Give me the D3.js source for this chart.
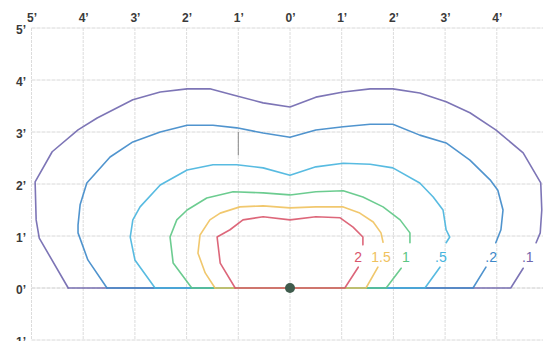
<!DOCTYPE html>
<html><head><meta charset="utf-8">
<script src="https://cdn.jsdelivr.net/npm/d3@7"></script>
<style>body{margin:0;background:#fff;}svg{display:block;}</style>
</head><body>
<script>
// ---- data (feet) ----
const xTicks = [-5,-4,-3,-2,-1,0,1,2,3,4,5];
const yTicks = [-1,0,1,2,3,4,5];
const levelLabels = ["2","1.5","1",".5",".2",".1"];
const levelColors = ["#d9566c","#efc25e","#5cc684","#46b4de","#3d88c9","#6f66ae"];

const contour2 = [[-1.06,0],[-1.35,0.48],[-1.41,0.98],[-1.16,1.12],[-0.91,1.31],[-0.52,1.37],[0,1.31],[0.50,1.37],[0.97,1.35],[1.22,1.17],[1.41,0.98],[1.41,0.83]];
const contour15 = [[-1.45,0],[-1.64,0.29],[-1.78,0.67],[-1.74,1.02],[-1.55,1.31],[-1.35,1.44],[-0.97,1.56],[-0.52,1.58],[0,1.54],[0.50,1.56],[1.03,1.56],[1.35,1.44],[1.61,1.27],[1.76,1.06],[1.80,0.88]];
const contour1 = [[-1.90,0],[-2.26,0.48],[-2.32,0.98],[-2.19,1.31],[-1.99,1.50],[-1.61,1.73],[-1.10,1.85],[-0.52,1.83],[0,1.79],[0.50,1.85],[1.03,1.87],[1.41,1.75],[1.80,1.56],[2.13,1.31],[2.32,1.06],[2.32,0.87]];
const contour05 = [[-2.61,0],[-3.00,0.54],[-3.09,0.98],[-3.04,1.31],[-2.90,1.56],[-2.51,1.98],[-1.99,2.27],[-1.49,2.37],[-1.03,2.37],[-0.52,2.31],[0,2.17],[0.50,2.33],[1.03,2.40],[1.55,2.38],[1.99,2.31],[2.51,2.02],[2.77,1.75],[2.96,1.50],[3.02,1.12],[3.09,0.98],[3.02,0.87]];
const contour02 = [[-3.54,0],[-3.91,0.54],[-4.10,1.06],[-4.10,1.21],[-4.06,1.60],[-3.93,2.02],[-3.48,2.52],[-3.04,2.81],[-2.51,3.00],[-1.99,3.13],[-1.49,3.13],[-1.03,3.08],[-0.52,2.98],[0,2.90],[0.50,3.04],[1.03,3.10],[1.55,3.15],[1.99,3.15],[2.51,2.94],[3.02,2.79],[3.48,2.46],[3.87,2.08],[4.02,1.88],[4.12,1.50],[4.08,1.12],[3.98,0.87]];
const contour01 = [[-4.29,0],[-4.85,0.96],[-4.91,1.31],[-4.93,2.04],[-4.60,2.62],[-4.10,3.04],[-3.73,3.27],[-3.04,3.62],[-2.51,3.77],[-1.99,3.83],[-1.55,3.83],[-1.10,3.71],[-0.52,3.56],[0,3.48],[0.50,3.67],[1.03,3.77],[1.55,3.83],[1.99,3.83],[2.51,3.75],[3.02,3.58],[3.48,3.37],[3.98,3.04],[4.51,2.60],[4.85,2.02],[4.87,1.50],[4.84,1.06],[4.76,0.87]];
const contours = [contour2, contour15, contour1, contour05, contour02, contour01];
// label centre positions and leader lines (from label to right baseline end)
const labelPos = [[1.32,0.60],[1.76,0.60],[2.24,0.60],[2.92,0.60],[3.89,0.60],[4.60,0.60]];
const leaderTop = [[1.32,0.40],[1.70,0.40],[2.15,0.38],[2.90,0.40],[3.79,0.40],[4.51,0.38]];
const leaderEnd = [[1.06,0],[1.47,0],[1.86,0],[2.61,0],[3.54,0],[4.27,0]];
const lampPos = [0,0];

// ---- drawing ----
const W = 543, H = 341;
const x = d3.scaleLinear().domain([-5,5]).range([31.5,548.5]);
const y = d3.scaleLinear().domain([-1,5]).range([340,28]);
const svg = d3.select("body").append("svg").attr("width",W).attr("height",H);

// grid
const grid = svg.append("g");
grid.selectAll("line.v").data(xTicks).join("line")
  .attr("x1",d=>x(d)).attr("x2",d=>x(d)).attr("y1",y(5)).attr("y2",y(-1))
  .attr("stroke","#dcdcdc").attr("stroke-width",1).attr("stroke-dasharray","3,1");
grid.selectAll("line.h").data(yTicks).join("line")
  .attr("x1",x(-5)).attr("x2",W).attr("y1",d=>y(d)).attr("y2",d=>y(d))
  .attr("stroke",d=> d===0 ? "#c8c8c8" : "#d8d8d8").attr("stroke-width",1).attr("stroke-dasharray","4,1");
// scan mark
grid.append("line").attr("x1",x(-1)).attr("x2",x(-1)).attr("y1",y(3)).attr("y2",y(2.55))
  .attr("stroke","#8a8a8a").attr("stroke-width",1);

const fmt = d => Math.abs(d) + "\u2019";
const topAxis = d3.axisTop(x).tickValues(xTicks).tickSize(0).tickPadding(0).tickFormat(fmt);
const gT = svg.append("g").attr("transform","translate(0,22)").call(topAxis);
const leftAxis = d3.axisLeft(y).tickValues(yTicks).tickSize(0).tickPadding(0).tickFormat(fmt);
const gL = svg.append("g").attr("transform","translate(26,0)").call(leftAxis);
[gT,gL].forEach(g=>{
  g.select(".domain").remove();
  g.selectAll("text").attr("font-family","Liberation Sans, Arial, sans-serif")
   .attr("font-size",12).attr("font-weight","bold").attr("fill","#3a3a3a");
});
gL.selectAll("text").attr("dy","0.45em");

// contours, outer first
const line = d3.line().x(d=>x(d[0])).y(d=>y(d[1]));
const order = d3.range(contours.length).reverse();
order.forEach(i=>{
  const pts = contours[i];
  const col = levelColors[i];
  const g = svg.append("g").attr("fill","none").attr("stroke",col).attr("stroke-width",1.6)
    .attr("stroke-linejoin","round").attr("stroke-linecap","round").attr("opacity",0.9);
  g.append("path").attr("d", line(pts));
  g.append("path").attr("d", line([leaderTop[i], leaderEnd[i], pts[0]]));
  svg.append("text").attr("x",x(labelPos[i][0])).attr("y",y(labelPos[i][1]))
    .attr("text-anchor","middle").attr("dy","0.35em")
    .attr("font-family","Liberation Sans, Arial, sans-serif").attr("font-size",14)
    .attr("fill",col).text(levelLabels[i]);
});

svg.append("circle").attr("cx",x(lampPos[0])).attr("cy",y(lampPos[1])).attr("r",5)
  .attr("fill","#3f5b4c");
</script>
</body></html>
